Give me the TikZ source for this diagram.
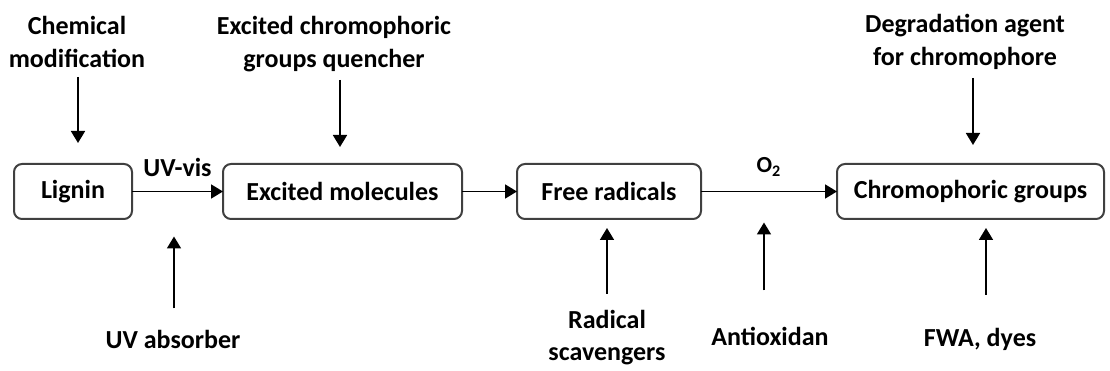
\documentclass[tikz,border=0pt]{standalone}
\usepackage{fontspec}
\setmainfont{Carlito}
\usetikzlibrary{arrows.meta,positioning}
\definecolor{boxgray}{HTML}{404040}

\begin{document}
\begin{tikzpicture}[
  node distance=10pt,
  box/.style={draw=boxgray, line width=1pt, rounded corners=4pt, outer sep=0pt,
              minimum height=27.5pt, font=\bfseries\fontsize{13}{16}\selectfont},
  lbl/.style={align=center, inner sep=0pt, text depth=0pt,
              font=\bfseries\fontsize{13}{16.5}\selectfont},
  arr/.style={-{Triangle[length=6pt, width=7pt]}, line width=0.9pt}]
\useasboundingbox (0,0) rectangle (555pt,185pt);
% main chain
\node[box, minimum width=59pt] (lignin) at (36.5pt,89.25pt) {Lignin};
\node[box, minimum width=119.5pt, right=45.5pt of lignin] (excited) {Excited molecules};
\node[box, minimum width=92pt, right=27.5pt of excited] (radicals) {Free radicals};
\node[box, minimum width=133.5pt, right=68pt of radicals] (chromo) {Chromophoric groups};
\draw[arr] (lignin) -- coordinate (uv-mid)
  node[lbl, above=7pt] (uvvis) {UV-vis} (excited);
\draw[arr] (excited) -- (radicals);
\draw[arr] (radicals) -- coordinate (o2-mid)
  node[lbl, above=9pt, font=\bfseries\fontsize{11.5}{13}\selectfont] (oxy) {O\textsubscript{2}} (chromo);
% agents from above
\coordinate[above=10.5pt of lignin, xshift=2.5pt] (lig-tip);
\coordinate[above=8.5pt of excited, xshift=-1.25pt] (exc-tip);
\coordinate[above=9.5pt of chromo, xshift=1.25pt] (chr-tip);
\node[lbl, above=37.5pt of lig-tip, xshift=-0.5pt] (chem) {Chemical\\modification};
\node[lbl, above=39.5pt of exc-tip, xshift=-3pt] (quench) {Excited chromophoric\\groups quencher};
\node[lbl, above=39.5pt of chr-tip, xshift=-4pt] (degrad) {Degradation agent\\for chromophore};
\draw[arr, shorten <=4.5pt] (chem.south -| lig-tip) -- (lig-tip);
\draw[arr, shorten <=6pt] (quench.south -| exc-tip) -- (exc-tip);
\draw[arr, shorten <=6pt] (degrad.south -| chr-tip) -- (chr-tip);
% agents from below
\coordinate[below=22.5pt of uv-mid, xshift=-1.75pt] (uv-tip);
\coordinate[below=4.5pt of radicals, xshift=-1pt] (rad-tip);
\coordinate[below=15.5pt of o2-mid, xshift=-2.5pt] (anti-tip);
\coordinate[below=4.5pt of chromo, xshift=7.75pt] (fwa-tip);
\node[lbl, below=46.5pt of uv-tip, xshift=-0.5pt] (uvabs) {UV absorber};
\node[lbl, below=41pt of rad-tip, font=\bfseries\fontsize{13}{16}\selectfont] (scav) {Radical\\scavengers};
\node[lbl, below=52pt of anti-tip, xshift=3pt] (antiox) {Antioxidan};
\node[lbl, below=50pt of fwa-tip, xshift=-3pt] (fwa) {FWA, dyes};
\draw[arr, shorten <=10.5pt] (uvabs.north -| uv-tip) -- (uv-tip);
\draw[arr, shorten <=8pt] (scav.north -| rad-tip) -- (rad-tip);
\draw[arr, shorten <=18pt] (antiox.north -| anti-tip) -- (anti-tip);
\draw[arr, shorten <=16.5pt] (fwa.north -| fwa-tip) -- (fwa-tip);
\end{tikzpicture}
\end{document}
